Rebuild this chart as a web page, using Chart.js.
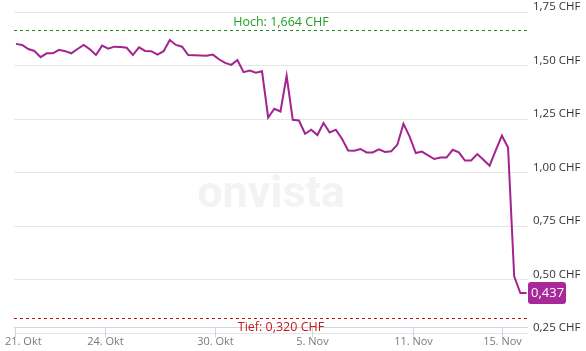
<!DOCTYPE html>
<html>
<head>
<meta charset="utf-8">
<script src="https://cdn.jsdelivr.net/npm/chart.js@4.4.1/dist/chart.umd.min.js"></script>
<style>
  html, body { margin: 0; padding: 0; background: #fff; }
  #wrap { width: 586px; height: 351px; position: relative; }
</style>
</head>
<body>
<div id="wrap"><canvas id="chart"></canvas></div>
<script>
// price series (CHF), one value per sample point
const prices = [
    1.601, 1.596, 1.577, 1.568, 1.539, 1.557, 1.557, 1.573, 1.567, 1.557,
    1.577, 1.596, 1.576, 1.549, 1.593, 1.579, 1.588, 1.586, 1.583, 1.549,
    1.585, 1.568, 1.567, 1.551, 1.567, 1.619, 1.596, 1.588, 1.549, 1.548,
    1.547, 1.546, 1.551, 1.529, 1.512, 1.503, 1.526, 1.469, 1.476, 1.466,
    1.473, 1.257, 1.298, 1.285, 1.452, 1.246, 1.243, 1.181, 1.200, 1.175,
    1.231, 1.187, 1.200, 1.158, 1.103, 1.102, 1.110, 1.094, 1.094, 1.108,
    1.096, 1.099, 1.130, 1.228, 1.168, 1.091, 1.098, 1.080, 1.063, 1.070,
    1.070, 1.106, 1.094, 1.056, 1.056, 1.086, 1.060, 1.032, 1.103, 1.172,
    1.117, 0.515, 0.437, 0.437
];
// date ticks, position given as sample index
const dateTickPos = [-0.16, 14.47, 32.35, 48.12, 64.54, 79.0];
const dateTickLabels = ['21. Okt', '24. Okt', '30. Okt', '5. Nov', '11. Nov', '15. Nov'];
const priceTicks = [0.25, 0.5, 0.75, 1.0, 1.25, 1.5, 1.75];
const high = 1.664;
const low = 0.320;
const lastPrice = 0.437;

const FONT = 'Open Sans';
const PURPLE = '#a3238f';

function fmt(v, d) {
    return v.toFixed(d).replace('.', ',');
}

const extras = {
    id: 'extras',
    beforeDatasetsDraw(chart) {
        const ctx = chart.ctx;
        const a = chart.chartArea;
        const y = chart.scales.y;

        // watermark
        ctx.save();
        ctx.fillStyle = '#f3f3f3';
        ctx.font = 'bold 45px Roboto';
        ctx.textAlign = 'center';
        ctx.textBaseline = 'alphabetic';
        ctx.fillText('onvista', 271, 207);
        ctx.restore();

        // high / low lines
        ctx.save();
        ctx.lineWidth = 1;
        ctx.setLineDash([3, 3]);
        let yh = Math.round(y.getPixelForValue(high)) + 0.5;
        ctx.strokeStyle = '#1f8a1f';
        ctx.beginPath(); ctx.moveTo(a.left, yh); ctx.lineTo(a.right, yh); ctx.stroke();
        let yl = Math.round(y.getPixelForValue(low)) + 0.5;
        ctx.strokeStyle = '#b80f0f';
        ctx.beginPath(); ctx.moveTo(a.left, yl); ctx.lineTo(a.right, yl); ctx.stroke();
        ctx.setLineDash([]);

        // x axis line + ticks
        const x = chart.scales.x;
        const ay = a.bottom - 6 + 0.5;
        ctx.strokeStyle = '#cdd6e4';
        ctx.beginPath(); ctx.moveTo(a.left, ay); ctx.lineTo(a.right, ay); ctx.stroke();
        ctx.font = '11px ' + FONT;
        ctx.fillStyle = '#7a7a7a';
        ctx.textAlign = 'left';
        ctx.textBaseline = 'middle';
        x.ticks.forEach((t, i) => {
            const px = Math.round(x.getPixelForValue(t.value)) + 0.5;
            ctx.beginPath(); ctx.moveTo(px, ay); ctx.lineTo(px, ay + 10); ctx.stroke();
            const txt = dateTickLabels[i];
            const w = ctx.measureText(txt).width;
            let tx = px - w / 2;
            if (tx < 5) tx = 5;
            ctx.fillText(txt, tx, 342);
        });

        // labels
        ctx.textAlign = 'center';
        ctx.font = '12.5px ' + FONT;
        ctx.fillStyle = '#22a022';
        ctx.fillText('Hoch: ' + fmt(high, 3) + ' CHF', 281, yh - 8);
        ctx.fillStyle = '#c81818';
        ctx.fillText('Tief: ' + fmt(low, 3) + ' CHF', 281, yl + 9);
        ctx.restore();
    },
    afterDatasetsDraw(chart) {
        const ctx = chart.ctx;
        const a = chart.chartArea;
        const py = chart.scales.y.getPixelForValue(lastPrice);
        ctx.save();
        ctx.fillStyle = '#a8289a';
        ctx.beginPath();
        ctx.roundRect(a.right, py - 11, 38, 22, 3);
        ctx.fill();
        ctx.fillStyle = '#fff';
        ctx.font = '13px ' + FONT;
        ctx.textAlign = 'left';
        ctx.textBaseline = 'middle';
        ctx.fillText(fmt(lastPrice, 3), a.right + 3, py + 0.5);
        ctx.restore();
    }
};

new Chart(document.getElementById('chart'), {
    type: 'line',
    data: {
        datasets: [{
            data: prices.map((v, i) => ({ x: i, y: v })),
            borderColor: PURPLE,
            borderWidth: 2,
            pointRadius: 0,
            tension: 0,
            fill: false
        }]
    },
    options: {
        responsive: true,
        maintainAspectRatio: false,
        animation: false,
        layout: { padding: { left: 14, top: 12, right: 0, bottom: 0 } },
        plugins: { legend: { display: false }, tooltip: { enabled: false } },
        scales: {
            x: {
                type: 'linear',
                min: -0.325,
                max: 83.245,
                afterBuildTicks: s => { s.ticks = dateTickPos.map(v => ({ value: v })); },
                afterFit: s => { s.height = 18; s.paddingLeft = 0; s.paddingRight = 0; },
                ticks: { display: false },
                grid: { display: false },
                border: { display: false }
            },
            y: {
                position: 'right',
                min: 0.25,
                max: 1.75,
                afterBuildTicks: s => { s.ticks = priceTicks.map(v => ({ value: v })); },
                afterFit: s => { s.width = 58; },
                grid: { color: '#e6e6e6', drawTicks: false },
                border: { display: false },
                ticks: {
                    color: '#333',
                    font: { family: FONT, size: 11.5 },
                    padding: 5,
                    labelOffset: -5,
                    callback: v => fmt(v, 2) + ' CHF'
                }
            }
        }
    },
    plugins: [extras]
});
</script>
</body>
</html>
